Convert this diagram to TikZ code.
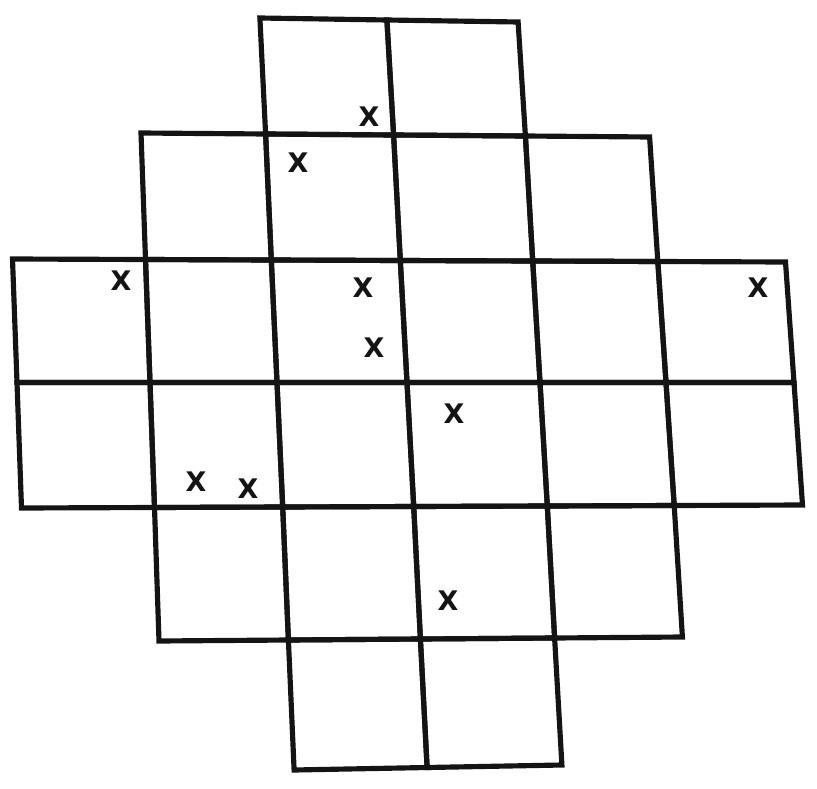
\documentclass[tikz,border=0pt]{standalone}
\usepackage{fontspec}
\newfontfamily\crossfont{DejaVu Sans}
\usetikzlibrary{positioning}
\definecolor{cink}{HTML}{141414}
\tikzset{
  every picture/.style={font=\sffamily},
  cell/.style={draw=cink, line width=4.4pt, line join=miter},
  cross/.style={text=cink, font=\crossfont\bfseries\fontsize{23}{23}\selectfont, inner sep=0pt},
}

\begin{document}
\begin{tikzpicture}[x=0.03cm, y=-0.03cm]
  \useasboundingbox (0,0) rectangle (817,789);
  % lattice points of the scanned sheet (column x, lean / row y, tilt)
  \foreach \c/\xc/\lc in {0/17/4.5, 1/150/4.5, 2/277/5.7, 3/407/6.7, 4/540/7.3, 5/666/8.2, 6/794/8.5}
    \foreach \r/\yr/\sr in {0/20/2, 1/135/1, 2/260.5/0.5, 3/382.5/0, 4/506.5/-0.5, 5/639/-1, 6/767.5/-2.5}
      \coordinate (p\c\r) at ({\xc+\lc*(\r-3)}, {\yr+\sr*(\c-3)});
  % cells, row by row
  \foreach \r/\a/\b in {0/2/3, 1/1/4, 2/0/5, 3/0/5, 4/1/4, 5/2/3}
    \foreach \c in {\a,...,\b} {
      \pgfmathtruncatemacro\cc{\c+1}
      \pgfmathtruncatemacro\rr{\r+1}
      \draw[cell] (p\c\r) -- (p\cc\r) -- (p\cc\rr) -- (p\c\rr) -- cycle;
    }
  % crosses
  \node[cross] (xa) at (369,117) {X};
  \node[cross] (xb) at (298,163) {X};
  \node[cross] (xc) at (121,281) {X};
  \node[cross] (xd) at (363,288) {X};
  \node[cross] (xe) at (374,348) {X};
  \node[cross] (xf) at (758,288) {X};
  \node[cross] (xg) at (454,414) {X};
  \node[cross] (xh) at (196,482) {X};
  \node[cross] (xi) at (248,489) {X};
  \node[cross] (xj) at (448,601) {X};
\end{tikzpicture}
\end{document}
